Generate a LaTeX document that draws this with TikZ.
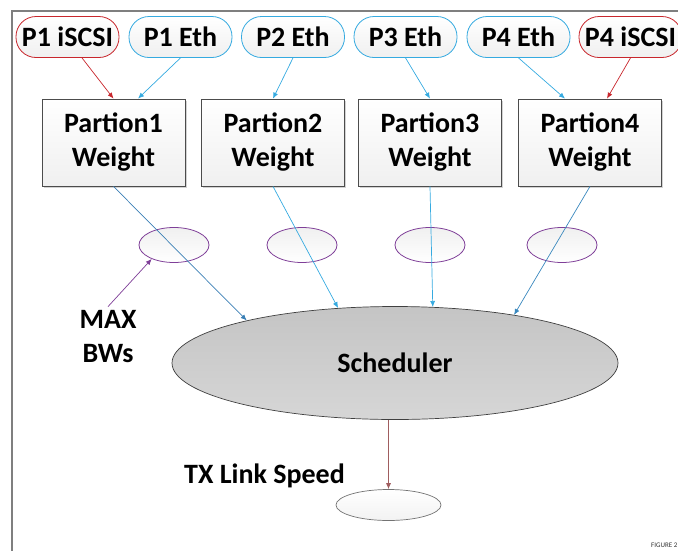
\documentclass[tikz,border=0pt]{standalone}
\usepackage{fontspec}
\setmainfont{Carlito}
\usetikzlibrary{shapes.geometric,shadows,arrows.meta}

\definecolor{linkred}{HTML}{C8262C}
\definecolor{linkblue}{HTML}{35AAE0}
\definecolor{darkblue}{HTML}{3A7FB5}
\definecolor{bwpurple}{HTML}{7F3F98}
\definecolor{framegray}{HTML}{7F7F7F}

\begin{document}
\begin{tikzpicture}[x=1pt, y=-1pt,
    lbl/.style={font=\fontsize{28}{34}\selectfont\bfseries, align=center},
    pill/.style={lbl, draw, line width=0.8pt, rectangle, rounded corners=20pt,
        minimum width=103pt, minimum height=41pt, inner sep=0pt,
        top color=white, bottom color=gray!12},
    wbox/.style={lbl, draw=black!70, line width=0.8pt, minimum width=143pt,
        minimum height=87pt, inner sep=0pt, top color=white, bottom color=gray!12,
        drop shadow={shadow xshift=1.5pt, shadow yshift=-1.5pt, opacity=0.35}},
    bwell/.style={ellipse, draw=bwpurple, line width=0.8pt, minimum width=70pt,
        minimum height=35pt, inner sep=0pt, top color=gray!12, bottom color=white},
    arr/.style={line width=0.7pt, -{Latex[length=6pt, width=5pt]}}]

    % Page size and frame
    \useasboundingbox (0,0) rectangle (678,550);
    \draw[framegray, line width=1.5pt] (12,551) -- (12,11) -- (679,11);

    % Port queues
    \foreach \name/\x/\txt/\col in {p1i/67.5/P1 iSCSI/linkred, p1e/180.5/P1 Eth/linkblue,
        p2e/293/P2 Eth/linkblue, p3e/405.5/P3 Eth/linkblue,
        p4e/518.5/P4 Eth/linkblue, p4i/630.5/P4 iSCSI/linkred}
        \node[pill, draw=\col] (\name) at (\x, 37) {\txt};

    % Partition weights
    \foreach \i/\x in {1/113.5, 2/273, 3/430, 4/590}
        \node[wbox] (w\i) at (\x, 142.5) {Partion\i\\Weight};

    % Max bandwidths
    \foreach \i/\x in {1/174, 2/302, 3/430, 4/562}
        \node[bwell] (m\i) at (\x, 245) {};

    % Scheduler and link
    \node[lbl, ellipse, draw=black!75, line width=0.7pt, minimum width=446pt,
        minimum height=113pt, inner sep=0pt, top color=black!23,
        bottom color=black!16] (sched) at (395, 363) {Scheduler};
    \node[ellipse, draw=black!55, line width=0.7pt, minimum width=105pt,
        minimum height=31pt, inner sep=0pt, top color=white,
        bottom color=gray!10] (link) at (388.5, 505) {};

    % Labels
    \node[lbl, inner sep=0pt] (maxbw) at (108, 337) {MAX\\BWs};
    \node[lbl, inner sep=0pt, anchor=east] (txlabel) at (345, 476) {TX Link Speed};
    \node[font=\fontsize{7}{8}\selectfont, text=black!80, inner sep=0pt,
        anchor=west] (fig) at (651, 545) {FIGURE 2};

    % Queues to weights
    \draw[arr, linkred] ([xshift=14.5pt]p1i.south) -- (w1.north);
    \draw[arr, linkblue] (p1e.south) -- ([xshift=24.5pt]w1.north);
    \draw[arr, linkblue] (p2e.south) -- (w2.north);
    \draw[arr, linkblue] (p3e.south) -- (w3.north);
    \draw[arr, linkblue] (p4e.south) -- ([xshift=-25pt]w4.north);
    \draw[arr, linkred] (p4i.south) -- ([xshift=17pt]w4.north);

    % Weights to scheduler
    \draw[arr, darkblue] (w1.south) -- (sched.164);
    \draw[arr, linkblue] (w2.south) -- (sched.136);
    \draw[arr, linkblue] (w3.south) -- (sched.56);
    \draw[arr, darkblue!80!linkblue] (w4.south) -- (sched.22);

    % Scheduler to link, max bw pointer
    \draw[arr, linkred!60!black!70!white] ([xshift=-6.5pt]sched.south) -- (link.north);
    \draw[arr, bwpurple] ([yshift=4pt]maxbw.north) -- (m1.212);

\end{tikzpicture}
\end{document}
